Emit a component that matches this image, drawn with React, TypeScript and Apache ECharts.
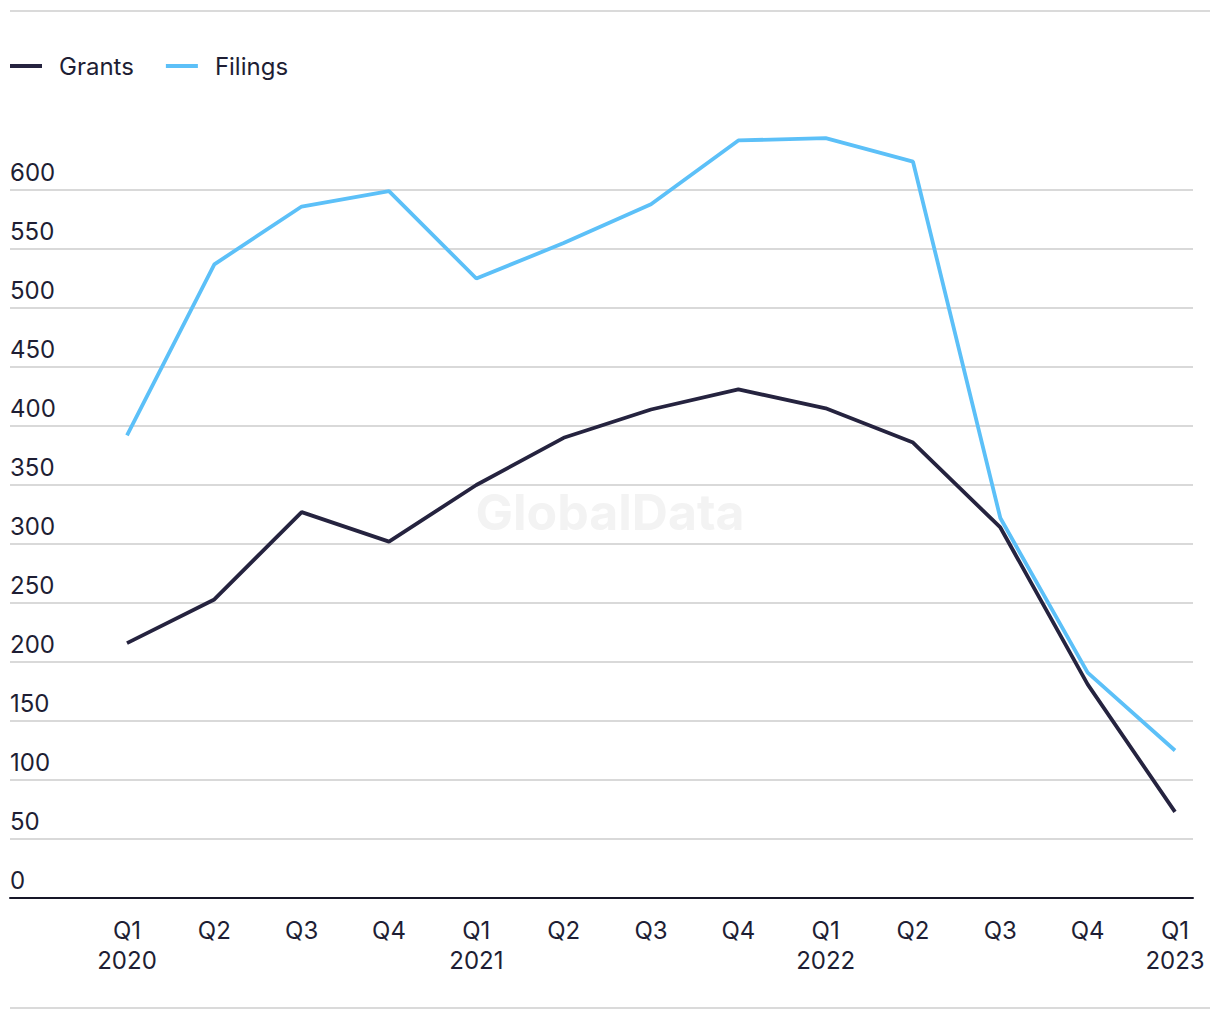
import React, { useEffect, useRef } from "react";
import * as echarts from "echarts";

const categories = [
  "Q1\n2020", "Q2", "Q3", "Q4",
  "Q1\n2021", "Q2", "Q3", "Q4",
  "Q1\n2022", "Q2", "Q3", "Q4",
  "Q1\n2023",
];
const grants = [216, 253, 327, 302, 350, 390, 414, 431, 415, 386, 314, 181, 73];
const filings = [392, 537, 586, 599, 525, 555, 588, 642, 644, 624, 322, 191, 125];

const FONT = "Inter, 'Liberation Sans', sans-serif";
const FS = 24;
const TEXT = "#1e1e34";
const GRANTS_COLOR = "#25233f";
const FILINGS_COLOR = "#5cc0f8";

export default function App() {
  const ref = useRef<HTMLDivElement>(null);
  useEffect(() => {
    if (!ref.current) return;
    const chart = echarts.init(ref.current, undefined, { renderer: "svg" });
    chart.setOption({
      animation: false,
      backgroundColor: "#ffffff",
      textStyle: { fontFamily: FONT },
      legend: {
        left: 10,
        top: 54,
        padding: 0,
        itemWidth: 32,
        itemHeight: 4,
        itemGap: 32,
        icon: "rect",
        textStyle: { fontSize: FS, color: TEXT, fontFamily: FONT, padding: [0, 0, 0, 12] },
        data: ["Grants", "Filings"],
      },
      graphic: [
        { type: "line", shape: { x1: 10, y1: 11, x2: 1210, y2: 11 }, style: { stroke: "#dadada", lineWidth: 2 } },
        { type: "line", shape: { x1: 10, y1: 1008, x2: 1210, y2: 1008 }, style: { stroke: "#dadada", lineWidth: 2 } },
        {
          type: "text",
          x: 610,
          y: 512,
          z: -1,
          style: {
            text: "GlobalData",
            fontSize: 50,
            fontWeight: "bold",
            fontFamily: FONT,
            fill: "#f3f3f3",
            align: "center",
            verticalAlign: "middle",
          },
        },
      ],
      grid: [
        { left: 10, right: 27, top: 190, bottom: 122 },
        { left: 127, right: 45, top: 190, bottom: 122 },
      ],
      xAxis: [
        {
          gridIndex: 0,
          type: "value",
          min: 0,
          max: 1,
          axisLine: { show: true, lineStyle: { color: "#161628", width: 2 } },
          axisTick: { show: false },
          axisLabel: { show: false },
          splitLine: { show: false },
        },
        {
          gridIndex: 1,
          type: "category",
          data: categories,
          boundaryGap: false,
          axisLine: { show: false },
          axisTick: { show: false },
          splitLine: { show: false },
          axisLabel: {
            interval: 0,
            fontSize: FS,
            lineHeight: 30,
            color: TEXT,
            fontFamily: FONT,
            margin: 17,
          },
        },
      ],
      yAxis: [
        {
          gridIndex: 0,
          type: "value",
          min: 0,
          max: 600,
          interval: 50,
          axisLine: { show: false },
          axisTick: { show: false },
          splitLine: { show: true, lineStyle: { color: "#d9d9d9", width: 2 } },
          axisLabel: {
            inside: true,
            margin: 0,
            fontSize: FS,
            color: TEXT,
            fontFamily: FONT,
            verticalAlign: "bottom",
            lineHeight: 24,
            padding: [0, 0, 6, 0],
          },
        },
        {
          gridIndex: 1,
          type: "value",
          min: 0,
          max: 600,
          interval: 50,
          show: false,
          splitLine: { show: false },
        },
      ],
      series: [
        {
          name: "Grants",
          type: "line",
          xAxisIndex: 1,
          yAxisIndex: 1,
          data: grants,
          symbol: "none",
          clip: false,
          color: GRANTS_COLOR,
          lineStyle: { width: 3.8, color: GRANTS_COLOR },
          z: 3,
        },
        {
          name: "Filings",
          type: "line",
          xAxisIndex: 1,
          yAxisIndex: 1,
          data: filings,
          symbol: "none",
          clip: false,
          color: FILINGS_COLOR,
          lineStyle: { width: 3.8, color: FILINGS_COLOR },
          z: 2,
        },
      ],
    });
    return () => chart.dispose();
  }, []);
  return (
    <div
      ref={ref}
      style={{ position: "absolute", left: 0, top: 0, width: 1220, height: 1020 }}
    />
  );
}
